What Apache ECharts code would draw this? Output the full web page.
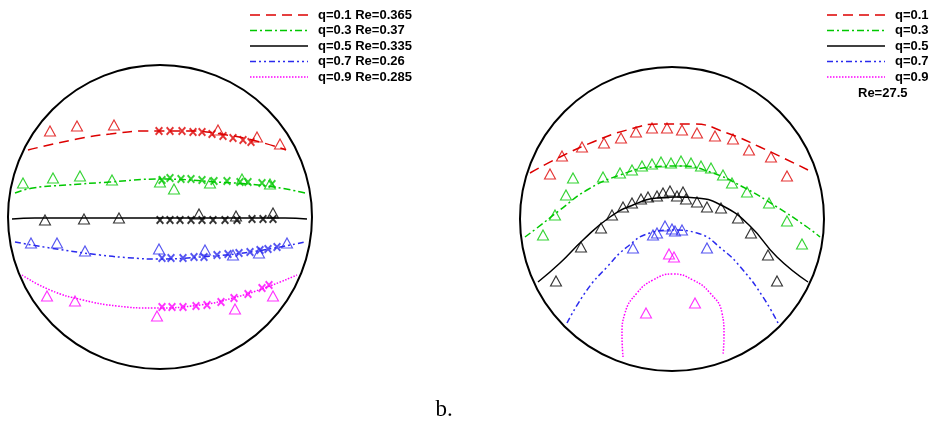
<!DOCTYPE html>
<html><head><meta charset="utf-8">
<script src="https://cdn.jsdelivr.net/npm/echarts@6/dist/echarts.min.js"></script>
<style>html,body{margin:0;padding:0;background:#fff}#c{width:930px;height:421px}</style>
</head><body><div id="c"></div>
<script>
// ---- data (units: radius of the cross-section = 152) ----
const qLabels = ['q=0.1', 'q=0.3', 'q=0.5', 'q=0.7', 'q=0.9'];
const leftReLabels = ['Re=0.365', 'Re=0.37', 'Re=0.335', 'Re=0.26', 'Re=0.285'];
const rightReLabel = 'Re=27.5';
const panelLabel = 'b.';

// left panel: curves
const leftLineQ01 = [[-132,67],[-83,78],[-50,83],[-13,86],[27,86],[67,82],[100,75],[126,67]];
const leftLineQ03 = [[-145,24],[-127,29],[-93,32],[-50,35],[0,38],[57,35],[107,31],[145,24]];
const leftLineQ05 = [[-148,-2],[-125,-1],[-50,-1],[0,-1],[50,-1],[125,-1],[147,-2]];
const leftLineQ07 = [[-145,-25],[-110,-31],[-60,-38],[-27,-41],[-3,-42],[40,-40],[90,-35],[145,-25]];
const leftLineQ09 = [[-138,-58],[-110,-73],[-77,-83],[-43,-89],[-7,-91],[40,-88],[73,-81],[107,-70],[137,-58]];
// left panel: triangles
const leftTriQ01 = [[-110,86],[-83,91],[-46,92],[58,87],[97,80],[120,73]];
const leftTriQ03 = [[-137,34],[-107,39],[-80,41],[-48,37],[0,35],[14,28],[50,34],[82,38],[110,33]];
const leftTriQ05 = [[-115,-3],[-76,-2],[-41,-1],[39,3],[76,1],[113,4]];
const leftTriQ07 = [[-129,-26],[-103,-26],[-75,-34],[-1,-32],[45,-33],[73,-38],[99,-36],[127,-26]];
const leftTriQ09 = [[-113,-79],[-85,-84],[-3,-99],[75,-92],[113,-79]];
// left panel: crosses
const leftCrossQ01 = [[-1,86],[10,86],[22,86],[33,85],[42,85],[52,83],[63,81],[73,79],[83,77],[91,75]];
const leftCrossQ03 = [[2,37],[10,39],[21,38],[31,38],[42,37],[54,36],[67,36],[80,35],[88,35],[102,34],[112,33]];
const leftCrossQ05 = [[0,-3],[10,-3],[20,-3],[31,-3],[42,-3],[53,-3],[65,-3],[77,-3],[92,-2],[103,-2],[113,-2]];
const leftCrossQ07 = [[2,-41],[11,-41],[23,-41],[34,-40],[44,-40],[57,-38],[68,-37],[79,-36],[90,-35],[100,-33],[108,-32],[117,-30]];
const leftCrossQ09 = [[2,-90],[12,-90],[23,-90],[36,-89],[47,-88],[61,-85],[74,-81],[88,-77],[102,-71],[109,-68]];

// right panel: curves
const rightLineQ01 = [[-142,46],[-112,62],[-79,77],[-45,89],[-12,95],[21,95],[55,86],[88,72],[136,49]];
const rightLineQ03 = [[-147,-18],[-135,-9],[-112,9],[-85,29],[-52,44],[-19,52],[8,53],[38,47],[71,32],[105,12],[135,-8],[148,-18]];
const rightLineQ05 = [[-134,-63],[-112,-44],[-89,-21],[-62,2],[-39,14],[-15,21],[5,22],[25,21],[51,13],[78,-7],[105,-38],[136,-63]];
const rightLineQ07 = [[-105,-104],[-85,-71],[-65,-48],[-45,-28],[-22,-14],[1,-11],[25,-14],[51,-31],[71,-51],[91,-78],[106,-104]];
const rightLineQ09 = [[-49,-138],[-50,-116],[-47,-94],[-35,-74],[-19,-61],[1,-55],[21,-61],[38,-74],[50,-94],[52,-116],[51,-136]];
// right panel: triangles
const rightTriQ01 = [[-122,45],[-110,63],[-90,72],[-68,76],[-51,81],[-36,87],[-20,91],[-5,91],[10,89],[25,86],[43,83],[61,80],[77,69],[99,62],[115,43]];
const rightTriQ03 = [[-129,-16],[-117,4],[-106,24],[-99,41],[-69,42],[-52,46],[-40,49],[-30,53],[-20,55],[-11,57],[-1,56],[9,58],[19,56],[29,53],[39,51],[51,44],[60,36],[75,27],[97,16],[115,-2],[130,-25]];
const rightTriQ05 = [[-116,-62],[-91,-28],[-71,-9],[-60,4],[-49,12],[-40,16],[-31,20],[-24,22],[-15,23],[-9,26],[-2,28],[5,23],[11,27],[14,20],[25,17],[35,12],[49,11],[66,1],[79,-14],[96,-36],[105,-62]];
const rightTriQ07 = [[-39,-29],[-19,-16],[-15,-14],[-7,-7],[0,-10],[3,-12],[10,-11],[35,-29]];
const rightTriQ09 = [[-3,-35],[2,-38],[-26,-94],[23,-84]];

// ---- styles ----
const styles = [
  {color:'#dd0000', dash:[10,6]},
  {color:'#00c800', dash:[7,3,2,3]},
  {color:'#000000', dash:'solid'},
  {color:'#2a2aee', dash:[6,3,2,3,2,3]},
  {color:'#ff00ff', dash:[1.5,1.5]}
];
const crossPath = 'path://M0,1.6L1.6,0L5,3.4L8.4,0L10,1.6L6.6,5L10,8.4L8.4,10L5,6.6L1.6,10L0,8.4L3.4,5Z';
const R = 152;

const leftLines = [leftLineQ01,leftLineQ03,leftLineQ05,leftLineQ07,leftLineQ09];
const leftTris = [leftTriQ01,leftTriQ03,leftTriQ05,leftTriQ07,leftTriQ09];
const leftCrosses = [leftCrossQ01,leftCrossQ03,leftCrossQ05,leftCrossQ07,leftCrossQ09];
const rightLines = [rightLineQ01,rightLineQ03,rightLineQ05,rightLineQ07,rightLineQ09];
const rightTris = [rightTriQ01,rightTriQ03,rightTriQ05,rightTriQ07,rightTriQ09];

const series = [];
function addPanel(g, lines, tris, crosses) {
  lines.forEach((d, i) => series.push({
    type:'line', xAxisIndex:g, yAxisIndex:g, data:d, smooth:0.5, symbol:'none',
    lineStyle:{color:styles[i].color, width:1.5, type:styles[i].dash}, silent:true, z:2
  }));
  tris.forEach((d, i) => series.push({
    type:'scatter', xAxisIndex:g, yAxisIndex:g, data:d, symbol:'triangle', symbolSize:[11,10],
    itemStyle:{color:'rgba(255,255,255,0)', borderColor:styles[i].color, borderWidth:1.1}, silent:true, z:3
  }));
  if (crosses) crosses.forEach((d, i) => series.push({
    type:'scatter', xAxisIndex:g, yAxisIndex:g, data:d, symbol:crossPath, symbolSize:[8,9],
    itemStyle:{color:styles[i].color}, silent:true, z:4
  }));
}
addPanel(0, leftLines, leftTris, leftCrosses);
addPanel(1, rightLines, rightTris, null);

const axisBase = {type:'value', min:-R, max:R, show:false};
const chart = echarts.init(document.getElementById('c'));
chart.setOption({
  animation:false,
  grid:[{left:8, top:65, width:304, height:304}, {left:520, top:67, width:304, height:304}],
  xAxis:[Object.assign({gridIndex:0}, axisBase), Object.assign({gridIndex:1}, axisBase)],
  yAxis:[Object.assign({gridIndex:0}, axisBase), Object.assign({gridIndex:1}, axisBase)],
  series: series
});

// circles and legends
const gfx = [];
[0,1].forEach(g => {
  const c = chart.convertToPixel({gridIndex:g}, [0,0]);
  const e = chart.convertToPixel({gridIndex:g}, [R,0]);
  gfx.push({type:'circle', shape:{cx:c[0], cy:c[1], r:e[0]-c[0]}, style:{fill:'none', stroke:'#000', lineWidth:2}, z:10, silent:true});
});
const font = 'bold 13px "Liberation Sans", Arial, sans-serif';
qLabels.forEach((q, i) => {
  const y = 15 + i * 15.5;
  const dash = styles[i].dash === 'solid' ? null : styles[i].dash;
  gfx.push({type:'line', shape:{x1:250, y1:y, x2:308, y2:y}, style:{stroke:styles[i].color, lineWidth:1.5, lineDash:dash}, silent:true});
  gfx.push({type:'text', x:318, y:y, style:{text:q + ' ' + leftReLabels[i], font:font, fill:'#000', textVerticalAlign:'middle'}, silent:true});
  gfx.push({type:'line', shape:{x1:827, y1:y, x2:885, y2:y}, style:{stroke:styles[i].color, lineWidth:1.5, lineDash:dash}, silent:true});
  gfx.push({type:'text', x:895, y:y, style:{text:q, font:font, fill:'#000', textVerticalAlign:'middle'}, silent:true});
});
gfx.push({type:'text', x:858, y:93, style:{text:rightReLabel, font:font, fill:'#000', textVerticalAlign:'middle'}, silent:true});
gfx.push({type:'text', x:444, y:410, style:{text:panelLabel, font:'23px "Liberation Serif", "DejaVu Serif", serif', fill:'#000', textAlign:'center', textVerticalAlign:'middle'}, silent:true});
chart.setOption({graphic:gfx});
</script>
</body></html>
